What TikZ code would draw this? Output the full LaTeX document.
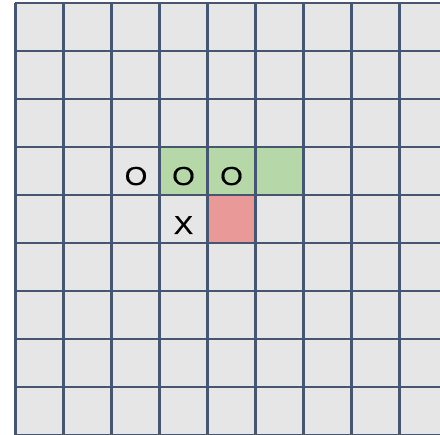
\documentclass[tikz,border=0pt]{standalone}
\usepackage{fontspec}
\setmainfont{Liberation Sans}
\newfontfamily\piecefont{Liberation Sans}[FakeBold=0.5, FakeStretch=1.12]
\usetikzlibrary{positioning}
\definecolor{CellGray}{RGB}{230, 230, 230}
\definecolor{GridSlate}{RGB}{70, 86, 112}
\definecolor{MoveGreen}{RGB}{182, 215, 168}
\definecolor{BlockRed}{RGB}{234, 153, 153}

\begin{document}
\begin{tikzpicture}[
    x=1pt, y=-1pt,
    gridline/.style={draw=GridSlate, line width=2.2pt},
    board/.style={fill=CellGray},
    greencell/.style={fill=MoveGreen},
    redcell/.style={fill=BlockRed},
    piece/.style={anchor=base, inner sep=0pt, font=\piecefont\fontsize{26}{26}\selectfont}
  ]
    \useasboundingbox[fill=white] (0,0) rectangle (440,435);
    \clip (0,0) rectangle (440,435);

    % board and coloured cells
    \fill[board] (15.5,3) rectangle (447.5,435);
    \fill[greencell] (159.5,147) rectangle (303.5,195);
    \fill[redcell] (207.5,195) rectangle (255.5,243);

    % grid lines
    \foreach \i in {0,...,9} {
      \draw[gridline] (15.5+48*\i,3) -- (15.5+48*\i,436);
      \draw[gridline] (14.5,3+48*\i) -- (448,3+48*\i);
    }

    % pieces
    \node[piece] (o1) at (136,185) {O};
    \node[piece] (o2) at (183.5,185) {O};
    \node[piece] (o3) at (231.5,185) {O};
    \node[piece] (x1) at (183.5,234) {X};
  \end{tikzpicture}
\end{document}
